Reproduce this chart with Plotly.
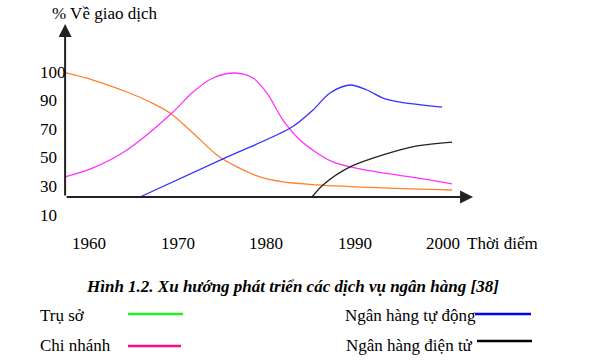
import plotly.graph_objects as go

W, H = 590, 361

# ---- data (years vs. % of transactions, schematic) ----
tru_so_x = [1957.29, 1960.45, 1964.29, 1966.89, 1969.15, 1971.75, 1974.46, 1976.72, 1979.32, 1981.92, 1985.76, 1993.22, 2001.02]
tru_so_y = [109.5, 104.4, 96.0, 89.0, 81.3, 67.3, 52.0, 43.6, 36.6, 33.1, 31.0, 28.9, 27.5]

chi_nhanh_x = [1957.29, 1960.45, 1964.29, 1969.38, 1971.75, 1974.01, 1976.50, 1978.53, 1980.11, 1981.92,
               1983.84, 1985.76, 1987.57, 1989.49, 1993.22, 1997.06, 2001.02]
chi_nhanh_y = [36.6, 42.9, 55.5, 81.3, 96.0, 105.8, 109.3, 105.8, 95.3, 76.4,
               62.4, 53.4, 47.1, 43.6, 39.4, 35.9, 31.7]

tu_dong_x = [1965.76, 1975.14, 1982.94, 1985.31, 1987.23, 1989.49, 1991.41, 1993.22, 1995.14, 1999.89]
tu_dong_y = [22.6, 49.2, 71.5, 83.4, 95.3, 100.9, 97.4, 91.8, 89.0, 85.5]

dien_tu_x = [1985.20, 1986.44, 1989.49, 1993.22, 1997.06, 2001.02]
dien_tu_y = [22.6, 31.0, 43.6, 52.0, 58.3, 61.0]

x_tick_vals = [1960, 1970, 1980, 1990, 2000]
x_tick_text = ["1960", "1970", "1980", "1990", "2000"]
y_tick_vals = [110, 90, 70, 50, 30, 10]
y_tick_text = ["100", "90", "70", "50", "30", "10"]

legend_names = ["Trụ sở", "Chi nhánh", "Ngân hàng tự động", "Ngân hàng điện tử"]
legend_colors = ["#22ee22", "#ff0a84", "#0000ff", "#000000"]

x_origin, y_origin = 1957.3, 22.6
x_end, y_end = 2003.4, 143.5

FONT = "Liberation Serif"

fig = go.Figure()
series = [
    (tru_so_x, tru_so_y, "#ff7f2a"),
    (chi_nhanh_x, chi_nhanh_y, "#ff33ff"),
    (tu_dong_x, tu_dong_y, "#3333ff"),
    (dien_tu_x, dien_tu_y, "#222222"),
]
for xs, ys, c in series:
    fig.add_trace(go.Scatter(x=xs, y=ys, mode="lines",
                             line=dict(color=c, width=1.3, shape="spline", smoothing=0.9),
                             showlegend=False, hoverinfo="skip"))

def px(xp):
    return xp / W

def py(yp):
    return 1 - yp / H

ann = []
# axes with arrows
ann.append(dict(x=x_end, y=y_origin, ax=x_origin, ay=y_origin, xref="x", yref="y", axref="x", ayref="y",
                showarrow=True, arrowhead=2, arrowsize=1.3, arrowwidth=2, arrowcolor="#222", text="", standoff=0))
ann.append(dict(x=x_origin, y=y_end, ax=x_origin, ay=y_origin, xref="x", yref="y", axref="x", ayref="y",
                showarrow=True, arrowhead=2, arrowsize=1.3, arrowwidth=2, arrowcolor="#222", text="", standoff=0))

# y tick labels (left aligned)
for v, t in zip(y_tick_vals, y_tick_text):
    ann.append(dict(x=px(38), y=v, xref="paper", yref="y", text=t, showarrow=False,
                    xanchor="left", yanchor="middle", font=dict(family=FONT, size=17, color="black")))
# x tick labels
for v, t in zip(x_tick_vals, x_tick_text):
    ann.append(dict(x=v, y=py(243), xref="x", yref="paper", text=t, showarrow=False,
                    xanchor="center", yanchor="middle", font=dict(family=FONT, size=17, color="black")))
ann.append(dict(x=px(465), y=py(243), xref="paper", yref="paper", text="Thời điểm", showarrow=False,
                xanchor="left", yanchor="middle", font=dict(family=FONT, size=17, color="black")))
ann.append(dict(x=px(50), y=py(14), xref="paper", yref="paper", text="% Về giao dịch", showarrow=False,
                xanchor="left", yanchor="middle", font=dict(family=FONT, size=17, color="black")))
ann.append(dict(x=px(292), y=py(286), xref="paper", yref="paper",
                text="<b><i>Hình 1.2. Xu hướng phát triển các dịch vụ ngân hàng [38]</i></b>", showarrow=False,
                xanchor="center", yanchor="middle", font=dict(family=FONT, size=17, color="black")))

# custom legend
leg_pos = [(38, 315, 128, 183, 314), (38, 345, 128, 181, 346), (343, 315, 475, 531, 314), (344, 345, 477, 532, 341)]
shapes = []
for name, col, (tx, ty, l0, l1, ly) in zip(legend_names, legend_colors, leg_pos):
    ann.append(dict(x=px(tx), y=py(ty), xref="paper", yref="paper", text=name, showarrow=False,
                    xanchor="left", yanchor="middle", font=dict(family=FONT, size=17, color="black")))
    shapes.append(dict(type="line", xref="paper", yref="paper", x0=px(l0), x1=px(l1), y0=py(ly), y1=py(ly),
                       line=dict(color=col, width=2.5)))

fig.update_layout(
    width=W, height=H,
    margin=dict(l=0, r=0, t=0, b=0),
    paper_bgcolor="white", plot_bgcolor="white",
    font=dict(family=FONT),
    xaxis=dict(range=[1960 - 89 / 8.85, 1960 + 501 / 8.85], visible=False, fixedrange=True),
    yaxis=dict(range=[10 + (215 - 361) / 1.43, 10 + 215 / 1.43], visible=False, fixedrange=True),
    annotations=ann, shapes=shapes,
)

fig.write_html("out.html", config={"displayModeBar": False},
               post_script="document.body.style.margin='0';document.body.style.overflow='hidden';")
